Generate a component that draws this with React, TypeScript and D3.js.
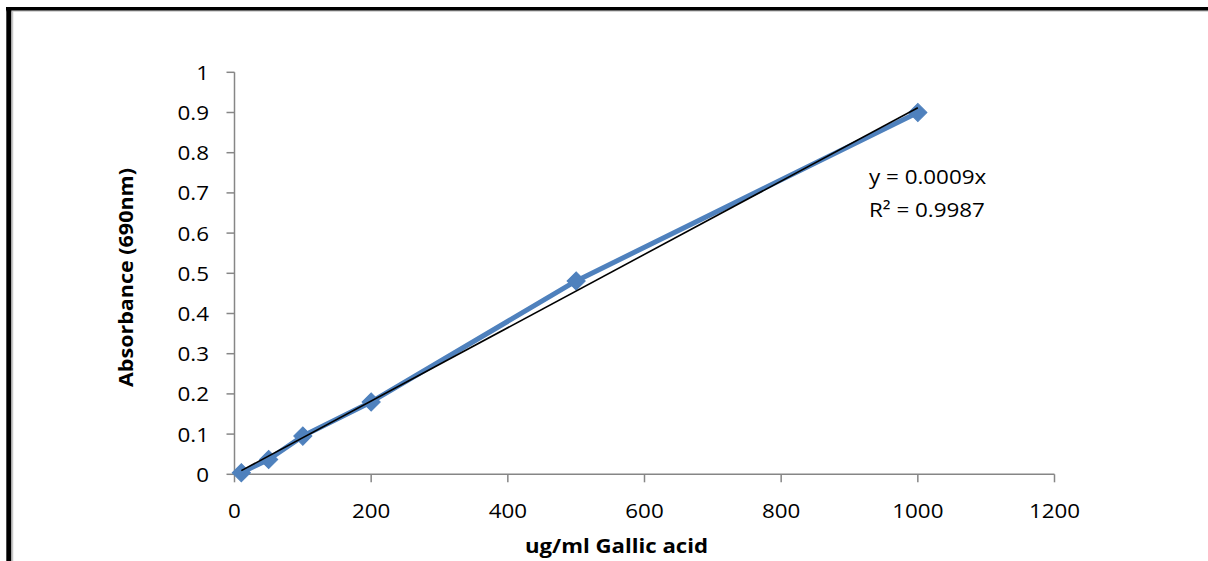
import React from 'react';
import * as d3 from 'd3';

// gallic acid standard curve
const concentrations = [10, 50, 100, 200, 500, 1000];
const absorbance = [0.004, 0.037, 0.095, 0.18, 0.481, 0.9];
const xTicks = [0, 200, 400, 600, 800, 1000, 1200];
const yTicks = [0, 0.1, 0.2, 0.3, 0.4, 0.5, 0.6, 0.7, 0.8, 0.9, 1];
const equationLabel = 'y = 0.0009x';
const r2Label = 'R\u00b2 = 0.9987';
const xTitle = 'ug/ml Gallic acid';
const yTitle = 'Absorbance (690nm)';

const W = 1208;
const H = 561;
const FONT = '"Open Sans", Lato, sans-serif';
const STRETCH = 1.12;
const AXIS = '#868686';
const BLUE = '#4f81bd';

// stretched text, the original font is wider than the installed ones
const T = ({ x, y, rotate = 0, anchor = 'start', size = 20, bold = false, len, children }: any) => (
  <text
    transform={`translate(${x},${y}) rotate(${rotate})` + (len ? '' : ` scale(${STRETCH},1)`)}
    textAnchor={anchor}
    fontFamily={FONT}
    fontSize={size}
    fontWeight={bold ? 700 : 400}
    fill="#000"
    textLength={len}
    lengthAdjust={len ? 'spacingAndGlyphs' : undefined}
  >
    {children}
  </text>
);

export default function App() {
  const x = d3.scaleLinear().domain([0, 1200]).range([234.5, 1054.5]);
  const y = d3.scaleLinear().domain([0, 1]).range([474.3, 72.3]);

  const pts = concentrations.map((c, i) => [c, absorbance[i]] as [number, number]);

  // linear trendline through the origin (least squares)
  const sxy = d3.sum(pts, (p) => p[0] * p[1]);
  const sxx = d3.sum(pts, (p) => p[0] * p[0]);
  const slope = sxy / sxx;
  const [xmin, xmax] = d3.extent(concentrations) as [number, number];

  const line = d3
    .line<[number, number]>()
    .x((d) => x(d[0]))
    .y((d) => y(d[1]));

  const diamond = d3.symbol().type(d3.symbolSquare).size(165)();

  return (
    <svg
      width={W}
      height={H}
      style={{ position: 'absolute', left: 0, top: 0, display: 'block', background: '#fff' }}
    >
      {/* chart frame */}
      <line x1={6} x2={W} y1={11} y2={11} stroke="#c8c8c8" strokeWidth={1.5} />
      <line x1={6} x2={W} y1={8.7} y2={8.7} stroke="#000" strokeWidth={3.6} />
      <line x1={12.5} x2={12.5} y1={11} y2={H} stroke="#c8c8c8" strokeWidth={1.5} />
      <line x1={8.8} x2={8.8} y1={7} y2={H} stroke="#000" strokeWidth={5} />

      {/* y axis */}
      <line x1={x(0)} x2={x(0)} y1={y(1)} y2={y(0)} stroke={AXIS} strokeWidth={1.5} />
      {yTicks.map((t) => (
        <g key={'y' + t}>
          <line x1={x(0) - 8} x2={x(0)} y1={y(t)} y2={y(t)} stroke={AXIS} strokeWidth={1.5} />
          <T x={209} y={y(t) + 7.5} anchor="end">
            {String(t)}
          </T>
        </g>
      ))}

      {/* x axis */}
      <line x1={x(0)} x2={x(1200)} y1={y(0)} y2={y(0)} stroke={AXIS} strokeWidth={1.5} />
      {xTicks.map((t) => (
        <g key={'x' + t}>
          <line x1={x(t)} x2={x(t)} y1={y(0)} y2={y(0) + 8} stroke={AXIS} strokeWidth={1.5} />
          <T x={x(t)} y={518} anchor="middle">
            {String(t)}
          </T>
        </g>
      ))}

      {/* series */}
      <path d={line(pts) || ''} fill="none" stroke={BLUE} strokeWidth={5} strokeLinejoin="round" />
      {pts.map((p) => (
        <path
          key={'m' + p[0]}
          d={diamond || ''}
          transform={`translate(${x(p[0])},${y(p[1])}) rotate(45)`}
          fill={BLUE}
          stroke={BLUE}
          strokeWidth={1}
        />
      ))}

      {/* trendline */}
      <line
        x1={x(xmin)}
        y1={y(slope * xmin)}
        x2={x(xmax)}
        y2={y(slope * xmax)}
        stroke="#000"
        strokeWidth={1.6}
      />
      <T x={869} y={184}>
        {equationLabel}
      </T>
      <T x={869} y={217}>
        {r2Label}
      </T>

      {/* axis titles */}
      <T x={133} y={277.5} rotate={-90} anchor="middle" size={20} bold len={219}>
        {yTitle}
      </T>
      <T x={616.5} y={553} anchor="middle" size={20} bold len={183}>
        {xTitle}
      </T>
    </svg>
  );
}
